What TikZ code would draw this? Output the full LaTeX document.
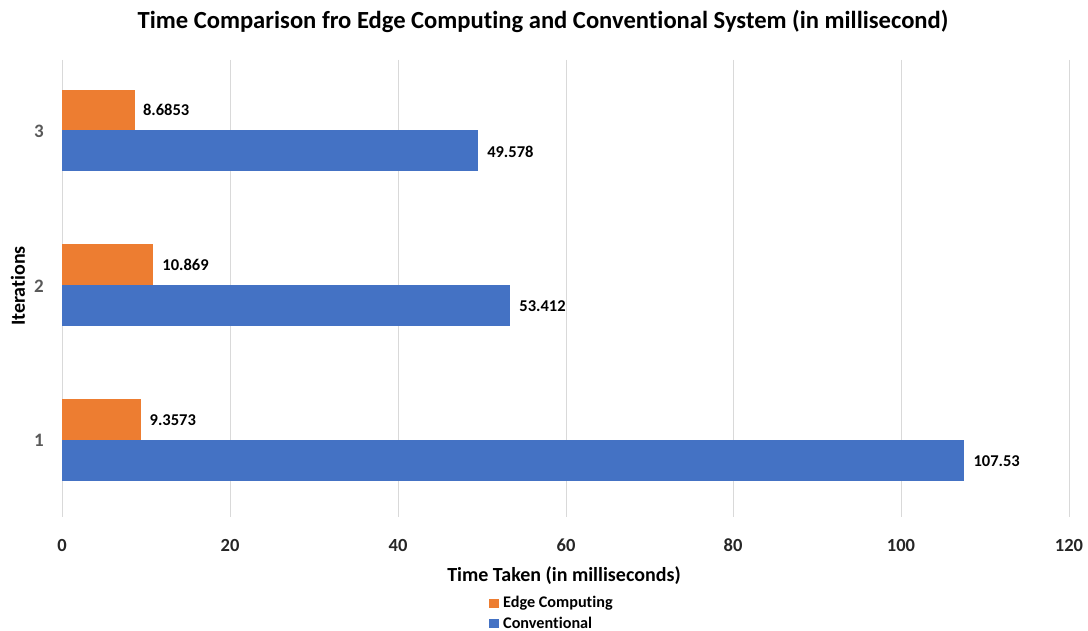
\documentclass[tikz,border=0pt]{standalone}
\usepackage{fontspec}
\setmainfont[Ligatures=NoCommon]{Carlito}
\usetikzlibrary{positioning}
\definecolor{edgeorange}{HTML}{ED7D31}
\definecolor{convblue}{HTML}{4472C4}
\definecolor{gridgray}{HTML}{D9D9D9}
\definecolor{ticktext}{HTML}{595959}
\tikzstyle{gridline} = [draw=gridgray, line width=0.8pt]
\tikzstyle{edgebar} = [fill=edgeorange]
\tikzstyle{convbar} = [fill=convblue]
\tikzstyle{vallabel} = [anchor=west, font=\bfseries\fontsize{16.5}{18}\selectfont, inner sep=0pt]
\tikzstyle{xtick} = [font=\bfseries\fontsize{18.5}{20}\selectfont, text=black!85]
\tikzstyle{ytick} = [font=\bfseries\fontsize{19}{21}\selectfont, text=ticktext]
\tikzstyle{axtitle} = [font=\bfseries\fontsize{20}{22}\selectfont]
\tikzstyle{legtext} = [anchor=west, font=\bfseries\fontsize{16.2}{18}\selectfont, inner sep=0pt]

\begin{document}
\begin{tikzpicture}[x=1pt, y=-1pt]
			\useasboundingbox (0,0) rectangle (1088,631);
			\node (title) [font=\bfseries\fontsize{24.6}{26}\selectfont] at (543,21) {Time Comparison fro Edge Computing and Conventional System (in millisecond)};

			% grid
			\draw [gridline] (62,60) -- (62,517);
			\draw [gridline] (230,60) -- (230,517);
			\draw [gridline] (398,60) -- (398,517);
			\draw [gridline] (566,60) -- (566,517);
			\draw [gridline] (733,60) -- (733,517);
			\draw [gridline] (901,60) -- (901,517);
			\draw [gridline] (1069,60) -- (1069,517);

			% bars, in data units
			\begin{scope}[xshift=62pt, x=8.392pt]
			\fill [edgebar] (0,90) rectangle (8.6853,130.5);
			\fill [convbar] (0,130.5) rectangle (49.578,171);
			\fill [edgebar] (0,244.5) rectangle (10.869,285.5);
			\fill [convbar] (0,285.5) rectangle (53.412,326);
			\fill [edgebar] (0,399) rectangle (9.3573,440);
			\fill [convbar] (0,440) rectangle (107.53,481);

			\node (e3) [vallabel] at (8.6853,110) {\hspace{8pt}8.6853};
			\node (c3) [vallabel] at (49.578,152) {\hspace{9pt}49.578};
			\node (e2) [vallabel] at (10.869,265) {\hspace{9pt}10.869};
			\node (c2) [vallabel] at (53.412,306) {\hspace{9pt}53.412};
			\node (e1) [vallabel] at (9.3573,420) {\hspace{9pt}9.3573};
			\node (c1) [vallabel] at (107.53,461) {\hspace{9pt}107.53};
			\end{scope}

			% axes
			\node (x0) [xtick] at (62,545) {0};
			\node (x20) [xtick] at (230,545) {20};
			\node (x40) [xtick] at (398,545) {40};
			\node (x60) [xtick] at (566,545) {60};
			\node (x80) [xtick] at (733,545) {80};
			\node (x100) [xtick] at (901,545) {100};
			\node (x120) [xtick] at (1069,545) {120};
			\node (y3) [ytick] at (39,131) {3};
			\node (y2) [ytick] at (39,286) {2};
			\node (y1) [ytick] at (39,440) {1};
			\node (xtitle) [axtitle] at (564,576) {Time Taken (in milliseconds)};
			\node (ytitle) [axtitle, rotate=90] at (18,286) {Iterations};

			% legend
			\fill [edgebar] (489,598.5) rectangle (499,608);
			\node (legedge) [legtext] at (503,603) {Edge Computing};
			\fill [convbar] (489,618.5) rectangle (499,628);
			\node (legconv) [legtext] at (503,622.5) {Conventional};
			\end{tikzpicture}
\end{document}
